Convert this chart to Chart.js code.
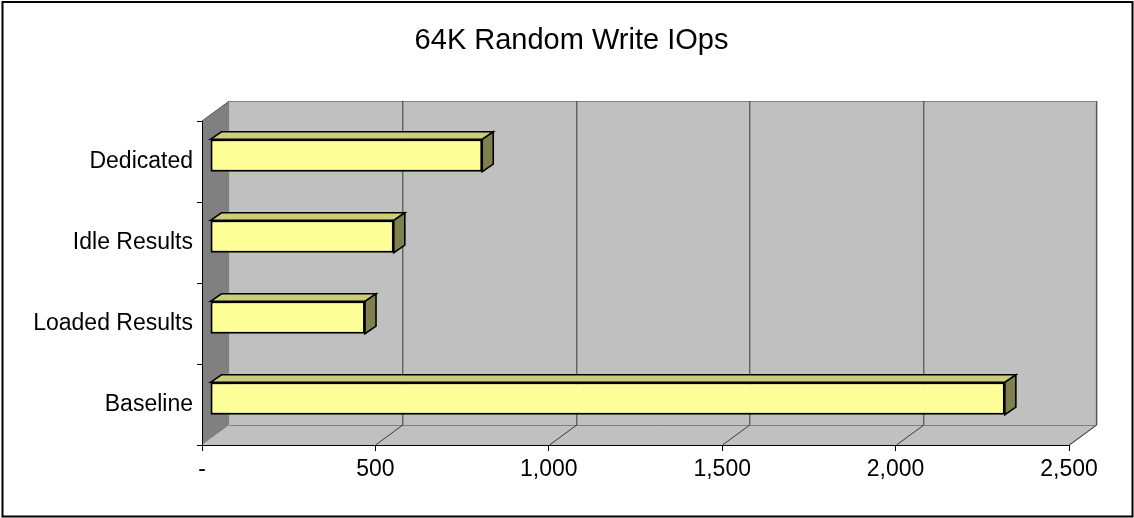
<!DOCTYPE html>
<html>
<head>
<meta charset="utf-8">
<script src="https://cdn.jsdelivr.net/npm/chart.js@4.4.1/dist/chart.umd.min.js"></script>
<style>
  html, body { margin: 0; padding: 0; background: #fff; }
  #wrap { width: 1134px; height: 518px; }
</style>
</head>
<body>
<div id="wrap"><canvas id="c" width="1134" height="518"></canvas></div>
<script>
// Data
const categories = ['Dedicated', 'Idle Results', 'Loaded Results', 'Baseline'];
const iops = [785, 530, 447, 2292];
const xTickValues = [0, 500, 1000, 1500, 2000, 2500];
const chartTitle = '64K Random Write IOps';

// 3D look: depth of the walls and of the bars (pixels)
const WALL = { dx: 27.3, dy: -20 };
const BAR_SHIFT = { dx: 8, dy: -6 };
const BAR_DEPTH = { dx: 11, dy: -7.5 };
const FONT = '"Liberation Sans", Arial, sans-serif';

function poly(ctx, pts) {
  ctx.beginPath();
  ctx.moveTo(pts[0][0], pts[0][1]);
  for (let i = 1; i < pts.length; i++) ctx.lineTo(pts[i][0], pts[i][1]);
  ctx.closePath();
}

const scene3d = {
  id: 'scene3d',
  beforeDraw(chart) {
    const { ctx, chartArea: a, scales: { x } } = chart;
    const dx = WALL.dx, dy = WALL.dy;
    ctx.save();
    ctx.fillStyle = '#ffffff';
    ctx.fillRect(0, 0, chart.width, chart.height);

    // back wall
    ctx.fillStyle = '#C0C0C0';
    ctx.fillRect(a.left + dx, a.top + dy, a.right - a.left, a.bottom - a.top);
    // floor
    poly(ctx, [[a.left, a.bottom], [a.left + dx, a.bottom + dy], [a.right + dx, a.bottom + dy], [a.right, a.bottom]]);
    ctx.fill();
    // wall / floor outlines
    ctx.strokeStyle = '#808080';
    ctx.lineWidth = 1;
    ctx.beginPath();
    ctx.moveTo(a.left + dx, a.top + dy + 0.5);
    ctx.lineTo(a.right + dx, a.top + dy + 0.5);
    ctx.lineTo(a.right + dx, a.bottom + dy);
    ctx.lineTo(a.right, a.bottom);
    ctx.moveTo(a.left + dx, a.bottom + dy + 0.5);
    ctx.lineTo(a.right + dx, a.bottom + dy + 0.5);
    ctx.stroke();

    // gridlines on the back wall and across the floor
    ctx.strokeStyle = '#3a3a3a';
    x.ticks.forEach(t => {
      if (t.value === 0) return;
      const px = Math.round(x.getPixelForValue(t.value)) + 0.5;
      ctx.beginPath();
      ctx.moveTo(px + dx, a.top + dy);
      ctx.lineTo(px + dx, a.bottom + dy);
      ctx.lineTo(px, a.bottom);
      ctx.stroke();
    });

    // left side wall
    ctx.fillStyle = '#808080';
    poly(ctx, [[a.left, a.top], [a.left + dx, a.top + dy], [a.left + dx, a.bottom + dy], [a.left, a.bottom]]);
    ctx.fill();
    ctx.strokeStyle = '#5a5a5a';
    ctx.beginPath();
    ctx.moveTo(a.left, a.top);
    ctx.lineTo(a.left + dx, a.top + dy);
    ctx.stroke();
    ctx.restore();
  },
  beforeDatasetsDraw(chart) {
    chart.ctx.save();
    chart.ctx.translate(BAR_SHIFT.dx, BAR_SHIFT.dy);
  },
  afterDatasetsDraw(chart) {
    const ctx = chart.ctx;
    const meta = chart.getDatasetMeta(0);
    meta.data.forEach(el => {
      const p = el.getProps(['x', 'y', 'base', 'height'], true);
      const top = p.y - p.height / 2, bottom = p.y + p.height / 2;
      const l = p.base, r = p.x;
      ctx.lineWidth = 1.6;
      ctx.lineJoin = 'miter';
      ctx.strokeStyle = '#000';
      // top face
      ctx.fillStyle = '#CCCC7A';
      poly(ctx, [[l, top], [l + BAR_DEPTH.dx, top + BAR_DEPTH.dy], [r + BAR_DEPTH.dx, top + BAR_DEPTH.dy], [r, top]]);
      ctx.fill(); ctx.stroke();
      // side face
      ctx.fillStyle = '#80804D';
      poly(ctx, [[r, top], [r + BAR_DEPTH.dx, top + BAR_DEPTH.dy], [r + BAR_DEPTH.dx, bottom + BAR_DEPTH.dy], [r, bottom]]);
      ctx.fill(); ctx.stroke();
    });
    ctx.restore();
  },
  afterDraw(chart) {
    const ctx = chart.ctx;
    ctx.save();
    ctx.fillStyle = '#000';
    ctx.font = '29px ' + FONT;
    ctx.textAlign = 'center';
    ctx.textBaseline = 'alphabetic';
    ctx.fillText(chartTitle, 571.5, 49);
    ctx.lineWidth = 2;
    ctx.strokeStyle = '#000';
    ctx.strokeRect(2.5, 2, 1130, 514.5);
    ctx.restore();
  }
};

new Chart(document.getElementById('c'), {
  type: 'bar',
  data: {
    labels: categories,
    datasets: [{
      data: iops,
      backgroundColor: '#FFFF99',
      borderColor: '#000000',
      borderWidth: 2,
      borderSkipped: false,
      barPercentage: 0.4,
      categoryPercentage: 1.0,
      clip: false
    }]
  },
  options: {
    indexAxis: 'y',
    responsive: false,
    animation: false,
    devicePixelRatio: 1,
    layout: { padding: { top: 121, right: 65, bottom: 0, left: 0 } },
    plugins: {
      legend: { display: false },
      title: { display: false },
      tooltip: { enabled: false }
    },
    scales: {
      x: {
        type: 'linear',
        min: xTickValues[0],
        max: xTickValues[xTickValues.length - 1],
        afterBuildTicks(scale) { scale.ticks = xTickValues.map(v => ({ value: v })); },
        afterFit(scale) { scale.height = 73; },
        grid: { drawOnChartArea: false, drawTicks: true, tickLength: 6, color: '#000' },
        border: { display: true, color: '#000', width: 1 },
        ticks: {
          color: '#000',
          padding: 5,
          maxRotation: 0,
          font: { family: FONT, size: 23 },
          callback: v => v === 0 ? '-' : v.toLocaleString('en-US')
        }
      },
      y: {
        type: 'category',
        offset: true,
        afterFit(scale) { scale.width = 202; },
        grid: { offset: true, drawOnChartArea: false, drawTicks: true, tickLength: 5, color: '#000' },
        border: { display: true, color: '#000', width: 1 },
        ticks: {
          color: '#000',
          padding: 4,
          font: { family: FONT, size: 23 }
        }
      }
    }
  },
  plugins: [scene3d]
});
</script>
</body>
</html>
